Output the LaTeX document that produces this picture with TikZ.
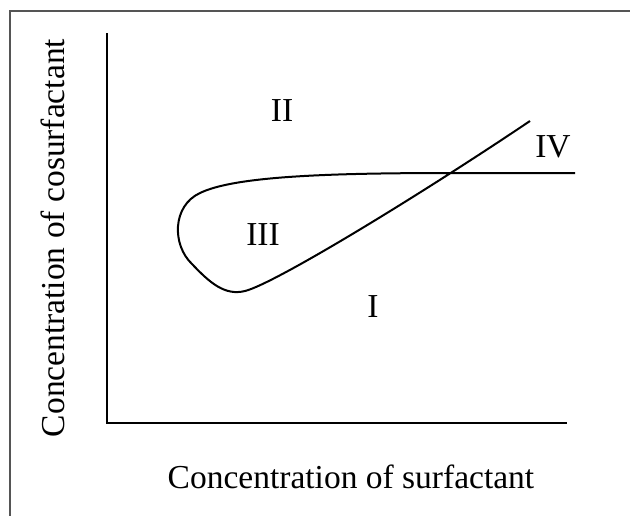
\documentclass[tikz,border=0pt]{standalone}
\usepackage{fontspec}
\setmainfont{Liberation Serif}
\usepackage{tikz}
\usepackage{xcolor}
\definecolor{framegray}{RGB}{85,85,85}

\begin{document}
\begin{tikzpicture}[x=1pt, y=-1pt,
    axis/.style={line width=2pt},
    phase/.style={line width=2pt, line join=round},
    region/.style={font=\fontsize{33.5}{38}\selectfont, inner sep=0pt}]
    \useasboundingbox (0,0) rectangle (630,515);
    % frame, cut by the page edge
    \clip (0,0) rectangle (630,515);
    \draw[line width=2pt, framegray] (10,11) rectangle (645,530);

    % axes
    \coordinate (top) at (107,33);
    \coordinate (origin) at (107,423);
    \coordinate (xend) at (567,423);
    \draw[axis] (top) -- (origin) -- (xend);
    \node[region, anchor=base] (xlabel) at (351,488) {Concentration of surfactant};
    \node[region, rotate=90] (ylabel) at (53,238) {Concentration of cosurfactant};

    % phase boundary
    \coordinate (tail) at (575,173);
    \coordinate (cross) at (455,173);
    \coordinate (tip) at (530,121);
    \draw[phase] (tail) -- (cross)
        .. controls (330,173) and (235,176) .. (200,193)
        .. controls (172,206) and (172,245) .. (192,264)
        .. controls (210,283) and (225,296) .. (245,291)
        .. controls (275,283.5) and (420,195) .. (tip);

    % regions
    \node[region] (one) at (373,307) {I};
    \node[region] (two) at (282,111) {II};
    \node[region] (three) at (263,235) {III};
    \node[region] (four) at (553,147) {IV};
\end{tikzpicture}
\end{document}
